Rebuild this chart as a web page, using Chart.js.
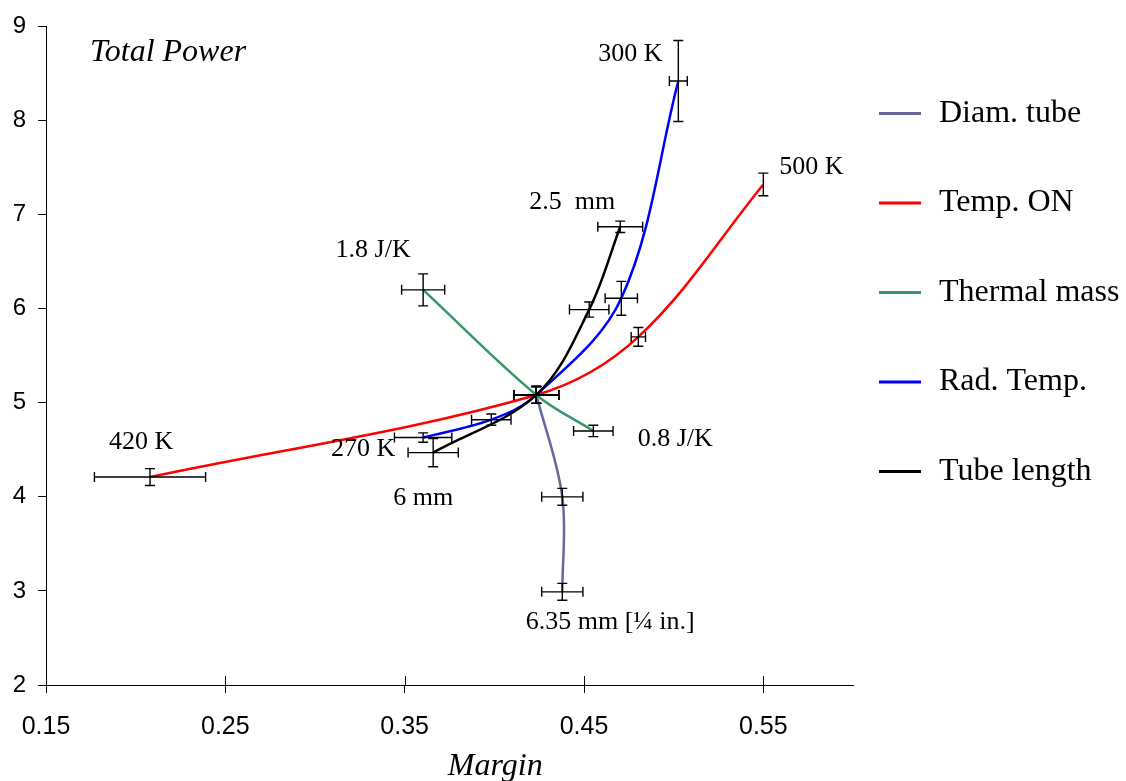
<!DOCTYPE html>
<html>
<head>
<meta charset="utf-8">
<script src="https://cdn.jsdelivr.net/npm/chart.js@4"></script>
<style>
html,body{margin:0;padding:0;background:#fff;}
canvas{display:block;}
</style>
</head>
<body>
<canvas id="c" width="1126" height="781"></canvas>
<script>
// ---------- data ----------
const xTickValues = [0.15, 0.25, 0.35, 0.45, 0.55];
const yTickValues = [2, 3, 4, 5, 6, 7, 8, 9];

const seriesNames = ["Diam. tube", "Temp. ON", "Thermal mass", "Rad. Temp.", "Tube length"];

const diamX    = [0.4234, 0.4379, 0.4379];
const diamY    = [5.083, 4.00, 2.99];
const diamXErr = [0.0125, 0.0115, 0.0115];
const diamYErr = [0.09, 0.09, 0.09];

const tempX    = [0.208, 0.4234, 0.4803, 0.550];
const tempY    = [4.21, 5.083, 5.70, 7.32];
const tempXErr = [0.031, 0.0125, 0.004, 0];
const tempYErr = [0.09, 0.09, 0.10, 0.12];

const thermX    = [0.3603, 0.4234, 0.4552];
const thermY    = [6.20, 5.083, 4.70];
const thermXErr = [0.012, 0.0125, 0.011];
const thermYErr = [0.17, 0.09, 0.06];

const radX    = [0.3603, 0.3983, 0.4234, 0.4708, 0.5026];
const radY    = [4.63, 4.82, 5.083, 6.11, 8.42];
const radXErr = [0.016, 0.011, 0.0125, 0.009, 0.005];
const radYErr = [0.05, 0.06, 0.09, 0.18, 0.43];

const tubeX    = [0.3659, 0.4234, 0.4529, 0.4702];
const tubeY    = [4.47, 5.083, 5.99, 6.87];
const tubeXErr = [0.014, 0.0125, 0.011, 0.0125];
const tubeYErr = [0.15, 0.09, 0.08, 0.06];

// point annotations (text, anchored in data units)
const noteTexts = ["300 K", "500 K", "2.5  mm", "1.8 J/K", "420 K", "270 K", "6 mm", "0.8 J/K", "6.35 mm [\u00BC in.]"];
const noteX     = [0.4758, 0.5768, 0.4434, 0.3324, 0.2030, 0.3268, 0.3603, 0.5009, 0.4646];
const noteY     = [8.704, 7.501, 7.132, 6.624, 4.576, 4.502, 3.985, 4.618, 2.665];

const chartNote = "Total Power";
const xTitle = "Margin";

// ---------- build ----------
function pts(xs, ys) { return xs.map((x, i) => ({x: x, y: ys[i]})); }

const colors = ["#666699", "#ff0000", "#339966", "#0000ff", "#000000"];
const allX = [diamX, tempX, thermX, radX, tubeX];
const allY = [diamY, tempY, thermY, radY, tubeY];
const allXErr = [diamXErr, tempXErr, thermXErr, radXErr, tubeXErr];
const allYErr = [diamYErr, tempYErr, thermYErr, radYErr, tubeYErr];
const drawOrder = [5, 4, 3, 2, 1];

const datasets = seriesNames.map((n, i) => ({
  label: n,
  data: pts(allX[i], allY[i]),
  borderColor: colors[i],
  backgroundColor: colors[i],
  borderWidth: 2.5,
  pointRadius: 0,
  tension: 0.35,
  fill: false,
  showLine: true,
  order: drawOrder[i],
  xErr: allXErr[i],
  yErr: allYErr[i]
}));

const SERIF = "'Liberation Serif', 'Times New Roman', serif";
const SANS = "'Liberation Sans', Arial, sans-serif";

const overlay = {
  id: 'overlay',
  afterDatasetsDraw(chart) {
    const ctx = chart.ctx;
    const xs = chart.scales.x, ys = chart.scales.y;
    ctx.save();
    ctx.strokeStyle = '#000';
    ctx.lineWidth = 1.4;
    const cap = 5;
    chart.data.datasets.forEach(ds => {
      ds.data.forEach((p, i) => {
        const px = xs.getPixelForValue(p.x), py = ys.getPixelForValue(p.y);
        const ex = ds.xErr[i], ey = ds.yErr[i];
        ctx.beginPath();
        if (ex > 0) {
          const x1 = xs.getPixelForValue(p.x - ex), x2 = xs.getPixelForValue(p.x + ex);
          ctx.moveTo(x1, py); ctx.lineTo(x2, py);
          ctx.moveTo(x1, py - cap); ctx.lineTo(x1, py + cap);
          ctx.moveTo(x2, py - cap); ctx.lineTo(x2, py + cap);
        }
        if (ey > 0) {
          const y1 = ys.getPixelForValue(p.y - ey), y2 = ys.getPixelForValue(p.y + ey);
          ctx.moveTo(px, y1); ctx.lineTo(px, y2);
          ctx.moveTo(px - cap, y1); ctx.lineTo(px + cap, y1);
          ctx.moveTo(px - cap, y2); ctx.lineTo(px + cap, y2);
        }
        ctx.stroke();
      });
    });
    ctx.restore();
  },
  afterDraw(chart) {
    const ctx = chart.ctx;
    const xs = chart.scales.x, ys = chart.scales.y;
    const area = chart.chartArea;
    ctx.save();
    // upward halves of x tick marks
    ctx.strokeStyle = '#000';
    ctx.lineWidth = 1;
    xTickValues.forEach(v => {
      const px = Math.round(xs.getPixelForValue(v)) + 0.5;
      ctx.beginPath();
      ctx.moveTo(px, area.bottom);
      ctx.lineTo(px, area.bottom - 9);
      ctx.stroke();
    });
    // annotations
    ctx.fillStyle = '#000';
    ctx.textAlign = 'center';
    ctx.textBaseline = 'middle';
    ctx.font = "26px " + SERIF;
    noteTexts.forEach((t, i) => {
      ctx.fillText(t, xs.getPixelForValue(noteX[i]), ys.getPixelForValue(noteY[i]));
    });
    // chart note
    ctx.textAlign = 'left';
    ctx.font = "italic 32px " + SERIF;
    ctx.fillText(chartNote, xs.getPixelForValue(0.1745), ys.getPixelForValue(8.725));
    // x title
    ctx.textAlign = 'center';
    ctx.font = "italic 32px " + SERIF;
    ctx.fillText(xTitle, xs.getPixelForValue(0.4005), area.bottom + 82);
    // legend
    const lx = area.right + 26, ly0 = area.top + 87, step = 89.5;
    ctx.font = "32px " + SERIF;
    ctx.textAlign = 'left';
    chart.data.datasets.forEach((ds, i) => {
      const y = ly0 + i * step;
      ctx.strokeStyle = ds.borderColor;
      ctx.lineWidth = 3;
      ctx.beginPath();
      ctx.moveTo(lx, y); ctx.lineTo(lx + 42, y);
      ctx.stroke();
      ctx.fillStyle = '#000';
      ctx.fillText(ds.label, lx + 60, y);
    });
    ctx.restore();
  }
};

new Chart(document.getElementById('c'), {
  type: 'scatter',
  data: { datasets: datasets },
  options: {
    responsive: false,
    animation: false,
    devicePixelRatio: 1,
    layout: { padding: { left: 0, top: 22, right: 273, bottom: 0 } },
    plugins: { legend: { display: false }, tooltip: { enabled: false } },
    scales: {
      x: {
        type: 'linear',
        min: 0.15, max: 0.6,
        afterBuildTicks: s => { s.ticks = xTickValues.map(v => ({value: v})); },
        afterFit: s => { s.height = 96; },
        grid: { drawOnChartArea: false, drawTicks: true, tickLength: 8, color: '#000' },
        border: { display: true, color: '#000', width: 1 },
        ticks: {
          color: '#000', font: { family: SANS, size: 25 }, padding: 19,
          maxRotation: 0, autoSkip: false,
          callback: v => v.toFixed(2)
        }
      },
      y: {
        type: 'linear',
        min: 2, max: 9,
        afterBuildTicks: s => { s.ticks = yTickValues.map(v => ({value: v})); },
        afterFit: s => { s.width = 46; },
        grid: { drawOnChartArea: false, drawTicks: true, tickLength: 8, color: '#000' },
        border: { display: true, color: '#000', width: 1 },
        ticks: {
          color: '#000', font: { family: SANS, size: 24 }, padding: 12,
          callback: v => String(v)
        }
      }
    }
  },
  plugins: [overlay]
});
</script>
</body>
</html>
